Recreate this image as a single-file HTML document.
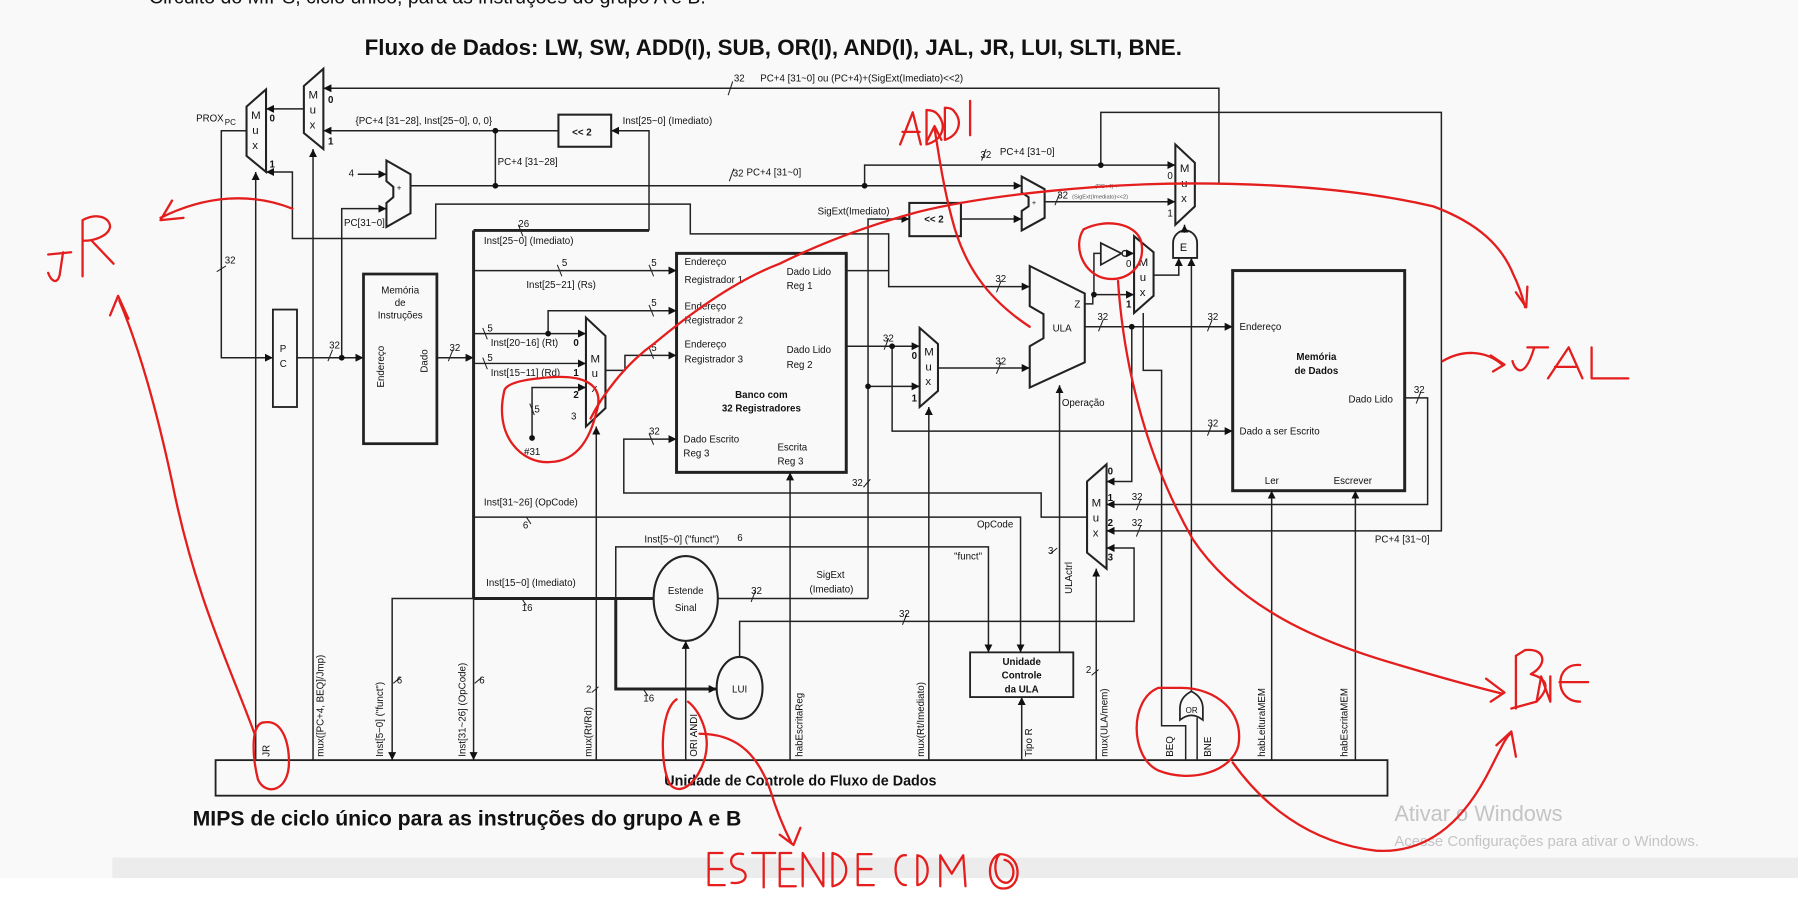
<!DOCTYPE html>
<html><head><meta charset="utf-8"><style>
html,body{margin:0;padding:0;background:#f9f9f9;overflow:hidden}
svg{display:block}
text{font-family:"Liberation Sans",Arial,sans-serif;fill:#111}
.s{font-size:8.5px}
.b{font-weight:bold}
.red{fill:none;stroke:#e41d1d;stroke-width:2;stroke-linecap:round;stroke-linejoin:round}
</style></head><body>
<svg width="1798" height="900" viewBox="0 0 1568 785" preserveAspectRatio="none" xmlns="http://www.w3.org/2000/svg">
<defs>
<marker id="a" viewBox="0 0 10 10" refX="10" refY="5" markerWidth="7" markerHeight="7" orient="auto" markerUnits="userSpaceOnUse"><path d="M0,0 L10,5 L0,10 z" fill="#111"/></marker>
</defs>
<rect x="0" y="0" width="1568" height="785" fill="#f9f9f9"/>
<rect x="98" y="748" width="1470" height="18" fill="#ececec"/>
<rect x="0" y="766" width="1568" height="19" fill="#ffffff"/>
<text x="130" y="3" style="font-size:17px">Circuito do MIPS, ciclo único, para as instruções do grupo A e B.</text>
<text x="318" y="48" class="b" style="font-size:19.5px">Fluxo de Dados: LW, SW, ADD(I), SUB, OR(I), AND(I), JAL, JR, LUI, SLTI, BNE.</text>

<g fill="none" stroke="#222" stroke-width="1.3">
<polygon points="215,93 232,78 232,150 215,136" stroke-width="1.8"/>
<polygon points="265,75 282,60 282,130 265,116" stroke-width="1.8"/>
<polygon points="1025,126 1042,142 1042,180 1025,196" stroke-width="1.8"/>
<polygon points="989,206 1006,220 1006,258 989,273" stroke-width="1.8"/>
<polygon points="802,286 818,300 818,341 802,355" stroke-width="1.8"/>
<polygon points="511,277 528,293 528,356 511,372" stroke-width="1.8"/>
<polygon points="948,420 965,405 965,496 948,482" stroke-width="1.8"/>
<polygon points="337,140 358,152 358,186 337,198 337,177 343,172 343,163 337,158" stroke-width="1.8"/>
<polygon points="891,154 911,165 911,190 891,201 891,184 897,180 897,172 891,168" stroke-width="1.8"/>
<polygon points="898,232 946,256 946,316 898,338 898,302 910,295 910,274 898,267" stroke-width="1.8"/>
<rect x="487" y="100" width="46" height="28" stroke-width="1.8"/>
<rect x="793" y="177" width="45" height="29" stroke-width="1.8"/>
<rect x="238" y="270" width="21" height="85" stroke-width="1.6"/>
<rect x="317" y="239" width="64" height="148" stroke-width="2.4"/>
<rect x="590" y="221" width="148" height="191" stroke-width="2.6"/>
<rect x="1075" y="236" width="150" height="192" stroke-width="2.6"/>
<rect x="846" y="569" width="90" height="39" stroke-width="1.6"/>
<rect x="188" y="663" width="1022" height="31" stroke-width="1.6"/>
<ellipse cx="598" cy="522" rx="28" ry="37" stroke-width="1.8"/>
<ellipse cx="645" cy="600" rx="20" ry="27" stroke-width="1.8"/>
<polygon points="960,212 978,221 960,231" stroke-width="1.5"/>
<circle cx="981" cy="221" r="2.5" stroke-width="1.2"/>
<path d="M1023,225 L1023,212 A10.5,11 0 0 1 1044,212 L1044,225 Z" stroke-width="1.6"/>
<path d="M1029,628 Q1039,620 1049,628 L1049,618 Q1049,608 1039,603 Q1029,608 1029,618 Z" stroke-width="1.5"/>

<path d="M1042,160 H1063 V77 H282" marker-end="url(#a)"/>
<path d="M265,95 H232" marker-end="url(#a)"/>
<path d="M487,114 H282" marker-end="url(#a)"/>
<path d="M432,114 V162"/>
<path d="M566,201 V114 H533" marker-end="url(#a)"/>
<path d="M358,162 H891" marker-end="url(#a)"/>
<path d="M312,152 H337" marker-end="url(#a)"/>
<path d="M298,312 V182 H337" marker-end="url(#a)"/>
<path d="M754,162 V144 H1025" marker-end="url(#a)"/>
<path d="M960,144 V98 H1257 V463 H965" marker-end="url(#a)"/>
<path d="M838,191 H891" marker-end="url(#a)"/>
<path d="M911,176 H1025" marker-end="url(#a)"/>
<path d="M757,522 V191 H793" marker-end="url(#a)"/>
<path d="M757,337 H802" marker-end="url(#a)"/>
<path d="M738,236 H775 V250 H898" marker-end="url(#a)"/>
<path d="M775,236 V204 H602 V178 H380 V208 H255 V150 H232" marker-end="url(#a)"/>
<path d="M215,114 H193 V312 H238" marker-end="url(#a)"/>
<path d="M259,312 H317" marker-end="url(#a)"/>
<path d="M223,663 V150" marker-end="url(#a)"/>
<path d="M273,663 V130" marker-end="url(#a)"/>
<path d="M381,312 H413" marker-end="url(#a)"/>
<path d="M413,201 V522 M413,201 H566 M413,522 H570" stroke-width="2.6"/>
<path d="M413,236 H590" marker-end="url(#a)"/>
<path d="M413,291 H511" marker-end="url(#a)"/>
<path d="M478,291 V271 H590" marker-end="url(#a)"/>
<path d="M413,317 H511" marker-end="url(#a)"/>
<path d="M464,382 V338 H511" marker-end="url(#a)"/>
<path d="M528,323 H545 V310 H590" marker-end="url(#a)"/>
<path d="M413,451 H890 V569" marker-end="url(#a)"/>
<path d="M413,522 V663" marker-end="url(#a)"/>
<path d="M413,522 H342 V663" marker-end="url(#a)"/>
<path d="M537,522 V477 H862 V569" marker-end="url(#a)"/>
<path d="M537,522 V601 H625" stroke-width="2.6" marker-end="url(#a)"/>
<path d="M598,663 V559" marker-end="url(#a)"/>
<path d="M626,522 H757"/>
<path d="M645,573 V542 H989 V478 H965" marker-end="url(#a)"/>
<path d="M520,663 V372" marker-end="url(#a)"/>
<path d="M689,663 V412" marker-end="url(#a)"/>
<path d="M810,663 V355" marker-end="url(#a)"/>
<path d="M891,663 V608" marker-end="url(#a)"/>
<path d="M924,569 V336" marker-end="url(#a)"/>
<path d="M956,663 V496" marker-end="url(#a)"/>
<path d="M738,302 H802" marker-end="url(#a)"/>
<path d="M778,302 V376 H1075" marker-end="url(#a)"/>
<path d="M818,321 H898" marker-end="url(#a)"/>
<path d="M946,285 H1075" marker-end="url(#a)"/>
<path d="M987,285 V420 H965" marker-end="url(#a)"/>
<path d="M946,265 H953 V257 H989" marker-end="url(#a)"/>
<path d="M954,257 V221 H960"/>
<path d="M983,221 H989" marker-end="url(#a)"/>
<path d="M1006,240 H1028 V225" marker-end="url(#a)"/>
<path d="M1033,203 V196" marker-end="url(#a)"/>
<path d="M1039,603 V225" marker-end="url(#a)"/>
<path d="M997,273 V323 H1013 V633 H1034 V663"/>
<path d="M1044,663 V626"/>
<path d="M1225,347 H1245 V440 H965" marker-end="url(#a)"/>
<path d="M948,451 H908 V430 H544 V383 H590" marker-end="url(#a)"/>
<path d="M1109,663 V428" marker-end="url(#a)"/>
<path d="M1182,663 V428" marker-end="url(#a)"/>
</g>
<g stroke="#222" stroke-width="0.9">
<path d="M635,83 l4,-12 M189,237 l8,-5 M286,315 l4,-10 M391,315 l4,-10 M636,158 l4,-11 M856,140 l4,-10 M920,179 l4,-10 M456,206 l-4,-10 M490,241 l-4,-10 M570,241 l-4,-10 M570,276 l-4,-10 M570,313 l-4,-10 M425,296 l-4,-10 M425,322 l-4,-10 M466,362 l-4,-10 M570,388 l-4,-10 M771,305 l4,-10 M869,326 l4,-10 M869,255 l4,-10 M958,289 l4,-10 M1053,289 l4,-10 M1053,380 l4,-10 M1235,352 l4,-10 M991,445 l4,-10 M991,468 l4,-10 M753,425 l6,-7 M459,451 l4,6 M455,522 l4,6 M655,525 l4,-10 M787,545 l4,-10 M343,596 l6,-5 M414,596 l6,-5 M516,604 l6,-5 M916,483 l6,-5 M952,589 l6,-5 M561,601 l4,6"/>
</g>

<g class="s">
<text x="640" y="71">32</text>
<text x="663" y="71">PC+4 [31~0] ou (PC+4)+(SigExt(Imediato)&lt;&lt;2)</text>
<text x="171" y="106">PROX</text><text x="196" y="109" style="font-size:7px">PC</text>
<text x="219" y="104" style="font-size:10px">M</text><text x="220" y="117" style="font-size:10px">u</text><text x="220" y="130" style="font-size:10px">x</text>
<text x="235" y="106" class="b">0</text><text x="235" y="146" class="b">1</text>
<text x="269" y="86" style="font-size:10px">M</text><text x="270" y="99" style="font-size:10px">u</text><text x="270" y="112" style="font-size:10px">x</text>
<text x="286" y="90" class="b">0</text><text x="286" y="126" class="b">1</text>
<text x="310" y="108">{PC+4 [31~28], Inst[25~0], 0, 0}</text>
<text x="499" y="118" class="b">&lt;&lt; 2</text>
<text x="543" y="108">Inst[25~0] (Imediato)</text>
<text x="434" y="144">PC+4 [31~28]</text>
<text x="304" y="154">4</text>
<text x="346" y="166" style="font-size:7px">+</text>
<text x="300" y="197">PC[31~0]</text>
<text x="639" y="154">32</text><text x="651" y="153">PC+4 [31~0]</text>
<text x="855" y="138">32</text><text x="872" y="135">PC+4 [31~0]</text>
<text x="713" y="187">SigExt(Imediato)</text>
<text x="806" y="194" class="b">&lt;&lt; 2</text>
<text x="900" y="179" style="font-size:6px">+</text>
<text x="922" y="173">32</text>
<text x="955" y="164" style="font-size:5px;fill:#555">(PC+4) +</text>
<text x="935" y="173" style="font-size:5px;fill:#555">(SigExt(Imediato)&lt;&lt;2)</text>
<text x="1018" y="156">0</text><text x="1018" y="189">1</text>
<text x="1029" y="150" style="font-size:10px">M</text><text x="1030" y="163" style="font-size:10px">u</text><text x="1030" y="176" style="font-size:10px">x</text>
<text x="1029" y="219" style="font-size:9.5px">E</text>
<text x="982" y="233">0</text><text x="982" y="268" class="b">1</text>
<text x="993" y="232" style="font-size:10px">M</text><text x="994" y="245" style="font-size:10px">u</text><text x="994" y="258" style="font-size:10px">x</text>
<text x="937" y="268">Z</text>
<text x="918" y="289">ULA</text>
<text x="926" y="354">Operação</text>
<text x="868" y="246">32</text><text x="868" y="318">32</text>
<text x="957" y="279">32</text>
<text x="1053" y="279">32</text><text x="1081" y="288">Endereço</text>
<text x="1148" y="314" class="b" text-anchor="middle">Memória</text>
<text x="1148" y="326" class="b" text-anchor="middle">de Dados</text>
<text x="1176" y="351">Dado Lido</text>
<text x="1233" y="343">32</text>
<text x="1053" y="372">32</text><text x="1081" y="379">Dado a ser Escrito</text>
<text x="1103" y="422">Ler</text><text x="1163" y="422">Escrever</text>
<text x="1199" y="473">PC+4 [31~0]</text>
<text x="966" y="414" class="b">0</text><text x="966" y="437" class="b">1</text><text x="966" y="459" class="b">2</text><text x="966" y="489" class="b">3</text>
<text x="952" y="442" style="font-size:10px">M</text><text x="953" y="455" style="font-size:10px">u</text><text x="953" y="468" style="font-size:10px">x</text>
<text x="987" y="436">32</text><text x="987" y="459">32</text>
<text x="795" y="313" class="b">0</text><text x="795" y="350" class="b">1</text>
<text x="806" y="310" style="font-size:10px">M</text><text x="807" y="323" style="font-size:10px">u</text><text x="807" y="336" style="font-size:10px">x</text>
<text x="770" y="298">32</text>
<text x="244" y="307">P</text><text x="244" y="320">C</text>
<text x="287" y="304">32</text><text x="392" y="306">32</text>
<text x="196" y="230">32</text>
<text x="349" y="256" text-anchor="middle">Memória</text>
<text x="349" y="267" text-anchor="middle">de</text>
<text x="349" y="278" text-anchor="middle">Instruções</text>
<text transform="translate(335,338) rotate(-90)">Endereço</text>
<text transform="translate(373,325) rotate(-90)">Dado</text>
<text x="452" y="198">26</text><text x="422" y="213">Inst[25~0] (Imediato)</text>
<text x="490" y="232">5</text><text x="568" y="232">5</text><text x="459" y="251">Inst[25~21] (Rs)</text>
<text x="568" y="267">5</text>
<text x="425" y="289">5</text><text x="428" y="302">Inst[20~16] (Rt)</text><text x="500" y="302" class="b">0</text>
<text x="425" y="315">5</text><text x="428" y="328">Inst[15~11] (Rd)</text><text x="500" y="328" class="b">1</text>
<text x="500" y="347" class="b">2</text><text x="498" y="366">3</text>
<text x="515" y="316" style="font-size:10px">M</text><text x="516" y="329" style="font-size:10px">u</text><text x="516" y="342" style="font-size:10px">x</text>
<text x="466" y="360">5</text>
<circle cx="464" cy="382" r="2.5" fill="#111"/>
<text x="457" y="397">#31</text>
<text x="568" y="306">5</text>
<text x="597" y="231">Endereço</text><text x="597" y="247">Registrador 1</text>
<text x="597" y="270">Endereço</text><text x="597" y="282">Registrador 2</text>
<text x="597" y="303">Endereço</text><text x="597" y="316">Registrador 3</text>
<text x="686" y="240">Dado Lido</text><text x="686" y="252">Reg 1</text>
<text x="686" y="308">Dado Lido</text><text x="686" y="321">Reg 2</text>
<text x="664" y="347" class="b" text-anchor="middle">Banco com</text>
<text x="664" y="359" class="b" text-anchor="middle">32 Registradores</text>
<text x="566" y="379">32</text>
<text x="596" y="386">Dado Escrito</text><text x="596" y="398">Reg 3</text>
<text x="678" y="393">Escrita</text><text x="678" y="405">Reg 3</text>
<text x="743" y="424">32</text>
<text x="422" y="441">Inst[31~26] (OpCode)</text><text x="456" y="461">6</text>
<text x="852" y="460">OpCode</text>
<text x="562" y="473">Inst[5~0] ("funct")</text><text x="643" y="472">6</text>
<text x="832" y="488">"funct"</text>
<text x="424" y="511">Inst[15~0] (Imediato)</text>
<text x="455" y="533">16</text>
<text x="598" y="518" text-anchor="middle">Estende</text><text x="598" y="533" text-anchor="middle">Sinal</text>
<text x="655" y="518">32</text>
<text x="712" y="504">SigExt</text><text x="706" y="517">(Imediato)</text>
<text x="784" y="538">32</text>
<text x="645" y="604" text-anchor="middle">LUI</text>
<text x="561" y="612">16</text>
<text x="891" y="580" class="b" text-anchor="middle">Unidade</text>
<text x="891" y="592" class="b" text-anchor="middle">Controle</text>
<text x="891" y="604" class="b" text-anchor="middle">da ULA</text>
<text x="914" y="483">3</text>
<text transform="translate(935,518) rotate(-90)">ULActrl</text>
<text x="947" y="587">2</text>
<text x="511" y="604">2</text>
<text x="346" y="596">6</text><text x="418" y="596">6</text>
<text x="1034" y="622" style="font-size:7px">OR</text>
<text transform="translate(235,660) rotate(-90)">JR</text>
<text transform="translate(282,660) rotate(-90)">mux([PC+4, BEQ]/Jmp)</text>
<text transform="translate(334,660) rotate(-90)">Inst[5~0] ("funct")</text>
<text transform="translate(406,660) rotate(-90)">Inst[31~26] (OpCode)</text>
<text transform="translate(516,660) rotate(-90)">mux(Rt/Rd)</text>
<text transform="translate(608,660) rotate(-90)">ORI ANDI</text>
<text transform="translate(700,660) rotate(-90)">habEscritaReg</text>
<text transform="translate(806,660) rotate(-90)">mux(Rt/Imediato)</text>
<text transform="translate(900,660) rotate(-90)">Tipo R</text>
<text transform="translate(966,660) rotate(-90)">mux(ULA/mem)</text>
<text transform="translate(1023,660) rotate(-90)">BEQ</text>
<text transform="translate(1056,660) rotate(-90)">BNE</text>
<text transform="translate(1103,660) rotate(-90)">habLeituraMEM</text>
<text transform="translate(1175,660) rotate(-90)">habEscritaMEM</text>
</g>
<g fill="#111">
<circle cx="432" cy="114" r="2.5"/><circle cx="432" cy="162" r="2.5"/><circle cx="298" cy="312" r="2.5"/>
<circle cx="754" cy="162" r="2.5"/><circle cx="960" cy="144" r="2.5"/><circle cx="478" cy="291" r="2.5"/>
<circle cx="778" cy="302" r="2.5"/><circle cx="757" cy="337" r="2.5"/><circle cx="987" cy="285" r="2.5"/>
<circle cx="954" cy="257" r="2.5"/>
</g>
<text x="698" y="685" class="b" style="font-size:12.5px" text-anchor="middle">Unidade de Controle do Fluxo de Dados</text>
<text x="168" y="720" class="b" style="font-size:18.5px">MIPS de ciclo único para as instruções do grupo A e B</text>
<text x="1216" y="716" style="font-size:19px;fill:#c4c4c4">Ativar o Windows</text>
<text x="1216" y="738" style="font-size:13px;fill:#c4c4c4">Acesse Configurações para ativar o Windows.</text>

<g class="red">
<path d="M222,640 C200,580 170,520 150,420 C135,350 120,300 104,262 M96,275 L103,258 L112,278"/>
<path d="M231,630 C218,630 220,660 225,680 C232,695 252,690 252,665 C252,645 245,628 231,630"/>
<path d="M42,222 L62,220 M55,220 L52,240 C50,248 45,246 42,238 M72,241 L72,192 C85,185 96,190 96,198 C94,207 80,210 73,210 M80,210 L99,230"/>
<path d="M255,182 C220,168 180,170 140,190 M150,175 L140,192 L160,190"/>
<path d="M440,340 C430,380 455,405 480,403 C505,402 515,380 520,360 C528,335 510,325 470,330 C450,332 442,336 440,340"/>
<path d="M515,365 C525,345 545,318 570,300 C600,275 640,245 680,230 C720,210 760,196 800,185 C860,170 960,160 1040,160 C1120,160 1190,166 1250,180 C1290,195 1310,215 1320,240 C1325,250 1328,260 1330,268 M1322,255 L1331,268 L1332,250"/>
<path d="M1258,315 C1275,305 1295,305 1310,318 M1300,310 L1312,318 L1302,324"/>
<path d="M1319,315 C1322,325 1330,330 1338,303 M1332,303 L1350,303 M1350,330 L1368,303 L1380,330 M1356,320 L1374,320 M1388,303 L1388,330 L1420,330"/>
<path d="M898,285 C860,260 840,230 830,190 C822,160 818,130 815,112 M808,124 L815,110 L821,122"/>
<path d="M785,126 L796,98 L803,126 M787,115 L802,115 M808,96 L808,126 C822,122 826,110 818,100 C815,96 810,96 808,96 M824,94 L824,122 C836,118 840,106 832,97 C830,94 826,94 824,94 M846,88 L846,118"/>
<path d="M945,200 C935,215 945,240 965,243 C985,246 1000,230 995,210 C990,195 965,190 945,200"/>
<path d="M975,245 C980,320 1000,400 1040,470 C1080,530 1150,560 1220,580 C1260,592 1290,600 1310,605 M1296,592 L1312,604 L1300,612"/>
<path d="M1322,572 L1322,618 M1318,618 L1340,612 C1352,600 1350,592 1335,588 C1350,580 1348,565 1330,567 L1322,572 M1340,612 L1344,590 L1352,612 L1352,590 M1378,580 C1355,578 1355,612 1378,612 M1360,595 L1385,595"/>
<path d="M1010,600 C985,610 985,660 1010,672 C1040,684 1075,672 1080,650 C1085,620 1060,600 1030,600 L1010,600"/>
<path d="M1075,665 C1100,700 1140,735 1200,742 C1250,745 1280,710 1300,670 C1310,650 1315,640 1318,640 M1305,650 L1318,638 L1322,660"/>
<path d="M590,610 C575,620 575,670 585,685 C595,695 610,680 615,660 C620,640 610,620 600,612"/>
<path d="M610,640 C640,640 660,655 672,690 C678,710 685,725 690,735 M680,728 L692,737 L698,722"/>
<path d="M630,744 L618,744 L618,772 L632,772 M618,758 L630,758 M648,745 C636,742 634,756 644,758 C654,760 652,772 638,770 M656,744 L676,744 M666,744 L666,774 M690,744 L680,744 L680,773 L694,773 M680,758 L692,758 M700,773 L700,744 L718,773 L718,744 M726,744 L726,773 C742,770 742,748 726,744 M760,745 L748,745 L748,772 L762,772 M748,758 L760,758 M790,746 C778,744 778,772 790,772 M800,746 L800,772 C812,770 812,748 800,746 M820,773 L820,746 L830,762 L840,746 L842,773 M872,745 C860,748 860,775 875,775 C892,775 892,745 872,745 C866,750 866,770 878,770 C886,768 886,752 876,750"/>
</g>
</svg>
</body></html>
